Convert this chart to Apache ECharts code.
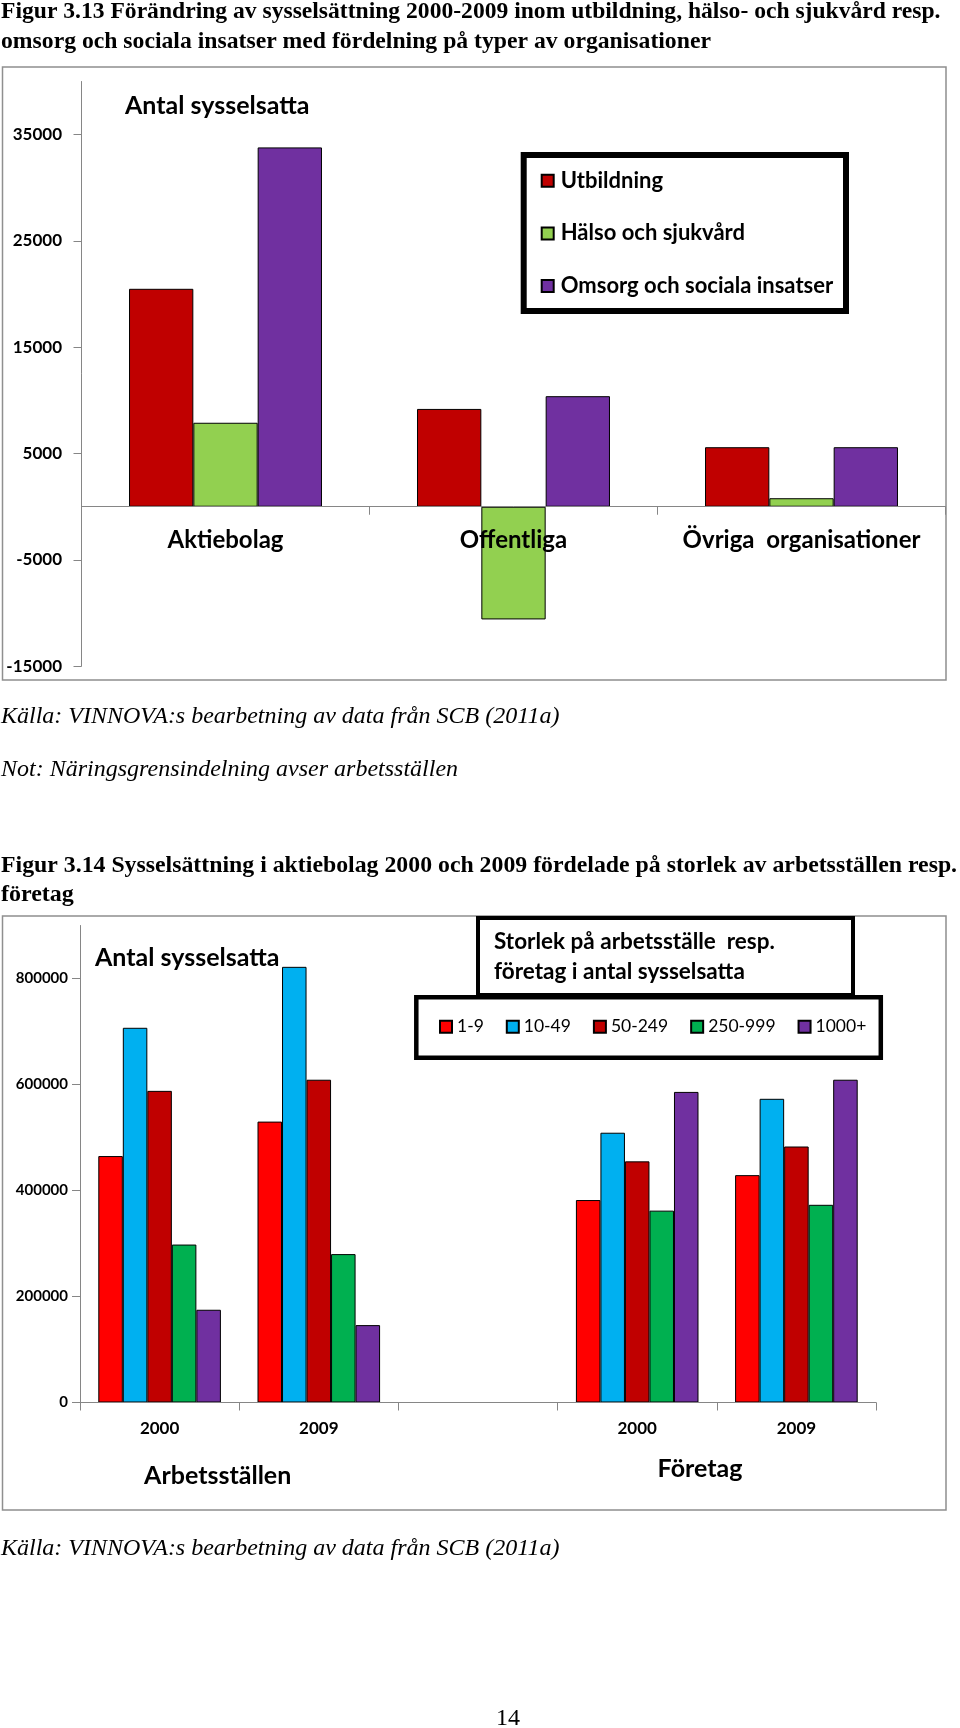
<!DOCTYPE html>
<html><head><meta charset="utf-8">
<script src="https://cdn.jsdelivr.net/npm/echarts@6/dist/echarts.min.js"></script>
<style>html,body{margin:0;padding:0;background:#fff}#c{width:960px;height:1728px}</style>
</head><body><div id="c"></div>
<script>
// ---- Figure 3.13 data ----
const cats1 = ['Aktiebolag', 'Offentliga', 'Övriga  organisationer'];
const names1 = ['Utbildning', 'Hälso och sjukvård', 'Omsorg och sociala insatser'];
const utbildning = [20500, 9200, 5600];
const halsoSjukvard = [7900, -10600, 800];
const omsorgSociala = [33800, 10400, 5600];
const yTicks1 = [-15000, -5000, 5000, 15000, 25000, 35000];

// ---- Figure 3.14 data ----
const cats2 = ['2000', '2009', '', '2000', '2009'];
const names2 = ['1-9', '10-49', '50-249', '250-999', '1000+'];
const size1_9 = [465000, 530000, null, 382000, 429000];
const size10_49 = [707000, 822000, null, 509000, 573000];
const size50_249 = [588000, 609000, null, 455000, 483000];
const size250_999 = [298000, 280000, null, 362000, 373000];
const size1000 = [175000, 146000, null, 586000, 609000];
const yTicks2 = [0, 200000, 400000, 600000, 800000];

const SANS = 'Lato, "Open Sans", sans-serif';
const SERIF = '"Liberation Serif", "DejaVu Serif", serif';
const AX = '#868686';

function bar(name, data, color, idx, gap) {
  return {
    type: 'bar', name: name, data: data, xAxisIndex: idx, yAxisIndex: idx,
    barGap: '0%', barCategoryGap: gap,
    itemStyle: { color: color, borderColor: '#000', borderWidth: 1 },
    emphasis: { disabled: true }
  };
}
function txt(x, y, text, opt) {
  return {
    type: 'text', x: x, y: y, z: 5, silent: true,
    style: Object.assign({
      text: text, fill: '#000', fontFamily: SANS, fontSize: 20, fontWeight: 'bold',
      align: 'left', verticalAlign: 'middle'
    }, opt || {})
  };
}
function box(x, y, w, h, lw, stroke, fill, z) {
  return { type: 'rect', silent: true, z: z, shape: { x: x, y: y, width: w, height: h },
    style: { fill: fill, stroke: stroke, lineWidth: lw } };
}

const chart = echarts.init(document.getElementById('c'), null, { renderer: 'canvas' });
const catAxis = (gi, data, fs, margin, offset) => ({
  gridIndex: gi, type: 'category', data: data, offset: offset, z: 5,
  axisLine: { show: true, onZero: false, lineStyle: { color: AX, width: 1 } },
  axisTick: { show: true, length: 8, lineStyle: { color: AX, width: 1 } },
  axisLabel: { interval: 0, margin: margin, fontFamily: SANS, fontWeight: 'bold', fontSize: fs, color: '#000' },
  splitLine: { show: false }
});
const valAxis = (gi, min, max, ticks, fs, margin) => ({
  gridIndex: gi, type: 'value', min: min, max: max,
  axisLine: { show: true, lineStyle: { color: AX, width: 1 } },
  axisTick: { show: true, length: 8, customValues: ticks, lineStyle: { color: AX, width: 1 } },
  axisLabel: { customValues: ticks, margin: margin, fontFamily: SANS, fontWeight: 'bold', fontSize: fs, color: '#000',
    formatter: (v) => String(v) },
  splitLine: { show: false }
});

// zero line of the first chart sits 15000/55000 of the grid height above its bottom
const grid1H = 1728 - 81.5 - 1061.8;
const zeroOffset1 = -grid1H * 15000 / 55000;

chart.setOption({
  animation: false,
  backgroundColor: '#fff',
  textStyle: { fontFamily: SANS },
  grid: [
    { left: 81.5, right: 14.5, top: 81.5, bottom: 1061.8 },
    { left: 80, right: 84, top: 925.5, bottom: 325.5 }
  ],
  xAxis: [catAxis(0, cats1, 24, 22, zeroOffset1), catAxis(1, cats2, 17, 18, 0)],
  yAxis: [valAxis(0, -15000, 40000, yTicks1, 17, 19.5), valAxis(1, 0, 900000, yTicks2, 15, 12)],
  legend: [
    { orient: 'vertical', left: 540.7, top: 168.7, padding: 0, itemWidth: 12, itemHeight: 12, itemGap: 28.7,
      icon: 'rect', selectedMode: false, data: names1, z: 6,
      textStyle: { fontFamily: SANS, fontWeight: 'bold', fontSize: 22, lineHeight: 24, color: '#000', padding: [0, 0, 0, 2] } },
    { orient: 'horizontal', left: 439, top: 1016.7, padding: 0, itemWidth: 12, itemHeight: 12, itemGap: 22,
      icon: 'rect', selectedMode: false, data: names2, z: 6,
      textStyle: { fontFamily: SANS, fontWeight: 'normal', fontSize: 17.5, lineHeight: 20, color: '#000' } }
  ],
  series: [
    bar(names1[0], utbildning, '#C00000', 0, '33%'),
    bar(names1[1], halsoSjukvard, '#92D050', 0, '33%'),
    bar(names1[2], omsorgSociala, '#7030A0', 0, '33%'),
    bar(names2[0], size1_9, '#FF0000', 1, '23%'),
    bar(names2[1], size10_49, '#00B0F0', 1, '23%'),
    bar(names2[2], size50_249, '#C00000', 1, '23%'),
    bar(names2[3], size250_999, '#00B050', 1, '23%'),
    bar(names2[4], size1000, '#7030A0', 1, '23%')
  ],
  graphic: { elements: [
    // frames
    box(2.5, 67, 943.5, 613, 1.5, '#8f8f8f', 'none', 0),
    box(2.5, 916, 943.5, 594, 1.5, '#8f8f8f', 'none', 0),
    // legend boxes
    box(523.7, 155, 322.3, 156, 6, '#000', '#fff', 1),
    box(478, 918, 375, 77, 4, '#000', '#fff', 1),
    box(416.3, 997.3, 464.5, 60.5, 4.5, '#000', '#fff', 2),
    // chart titles
    txt(125, 106, 'Antal sysselsatta', { fontSize: 25 }),
    txt(95, 958, 'Antal sysselsatta', { fontSize: 25 }),
    txt(494, 941.7, 'Storlek på arbetsställe  resp.', { fontSize: 22.5 }),
    txt(494, 971.5, 'företag i antal sysselsatta', { fontSize: 22.5 }),
    txt(217.7, 1475.5, 'Arbetsställen', { fontSize: 25, align: 'center' }),
    txt(700, 1469, 'Företag', { fontSize: 25, align: 'center' }),
    // document text
    txt(1, 11.5, 'Figur 3.13 Förändring av sysselsättning 2000-2009 inom utbildning, hälso- och sjukvård resp.', { fontFamily: SERIF, fontSize: 23.6 }),
    txt(1, 41.5, 'omsorg och sociala insatser med fördelning på typer av organisationer', { fontFamily: SERIF, fontSize: 23.7 }),
    txt(1, 716.5, 'Källa: VINNOVA:s bearbetning av data från SCB (2011a)', { fontFamily: SERIF, fontSize: 24, fontWeight: 'normal', fontStyle: 'italic' }),
    txt(1, 770, 'Not: Näringsgrensindelning avser arbetsställen', { fontFamily: SERIF, fontSize: 24, fontWeight: 'normal', fontStyle: 'italic' }),
    txt(1, 866, 'Figur 3.14 Sysselsättning i aktiebolag 2000 och 2009 fördelade på storlek av arbetsställen resp.', { fontFamily: SERIF, fontSize: 23.8 }),
    txt(1, 894.5, 'företag', { fontFamily: SERIF, fontSize: 24 }),
    txt(1, 1548.5, 'Källa: VINNOVA:s bearbetning av data från SCB (2011a)', { fontFamily: SERIF, fontSize: 24, fontWeight: 'normal', fontStyle: 'italic' }),
    txt(508, 1719, '14', { fontFamily: SERIF, fontSize: 24, fontWeight: 'normal', align: 'center' })
  ] }
});
</script>
</body></html>
